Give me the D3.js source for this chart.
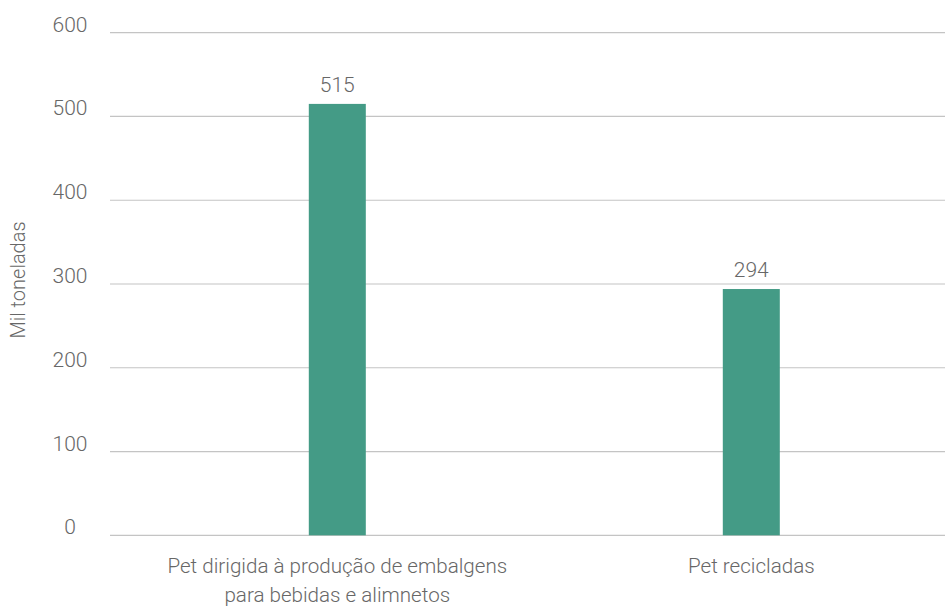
<!DOCTYPE html>
<html>
<head>
<meta charset="utf-8">
<script src="https://cdn.jsdelivr.net/npm/d3@7"></script>
<style>
  html, body { margin: 0; padding: 0; background: #fff; }
  svg { display: block; }
  text { font-family: Roboto, "Noto Sans", sans-serif; font-weight: 300; fill: #676767; }
</style>
</head>
<body>
<svg id="chart" width="945" height="612"></svg>
<script>
const categories = [
  ["Pet dirigida à produção de embalgens", "para bebidas e alimnetos"],
  ["Pet recicladas"]
];
const values = [515, 294];
const yTicks = [0, 100, 200, 300, 400, 500, 600];
const yTitle = "Mil toneladas";
const barColor = "#449b86";

const svg = d3.select("#chart");
const plotLeft = 110, plotRight = 945;
const y = d3.scaleLinear().domain([0, 600]).range([535.3, 32.7]);
const x = d3.scaleBand().domain(d3.range(values.length)).range([130.3, 958.3]).padding(0);
const barW = x.bandwidth() * 0.1377;

// gridlines
svg.append("g").selectAll("line").data(yTicks).join("line")
  .attr("x1", plotLeft).attr("x2", plotRight)
  .attr("y1", d => y(d)).attr("y2", d => y(d))
  .attr("stroke", "#c4c4c4").attr("stroke-width", 1.2);

// y tick labels
svg.append("g").selectAll("text").data(yTicks).join("text")
  .attr("x", 70).attr("y", d => y(d) - 1)
  .attr("text-anchor", "middle")
  .style("font-size", "21px")
  .text(d => d);

// y title
svg.append("text")
  .attr("transform", "translate(25,280) rotate(-90)")
  .attr("text-anchor", "middle")
  .style("font-size", "20px")
  .text(yTitle);

// bars
svg.append("g").selectAll("rect").data(values).join("rect")
  .attr("x", (d, i) => x(i) + x.bandwidth() / 2 - barW / 2)
  .attr("width", barW)
  .attr("y", d => y(d))
  .attr("height", d => y(0) - y(d))
  .attr("fill", barColor);

// value labels
svg.append("g").selectAll("text").data(values).join("text")
  .attr("x", (d, i) => x(i) + x.bandwidth() / 2)
  .attr("y", d => y(d) - 12)
  .attr("text-anchor", "middle")
  .style("font-size", "21px")
  .text(d => d);

// category labels
const cat = svg.append("g").selectAll("text").data(categories).join("text")
  .attr("x", (d, i) => x(i) + x.bandwidth() / 2)
  .attr("y", 572.5)
  .attr("text-anchor", "middle")
  .style("font-size", "20.6px");
cat.each(function(lines, i) {
  d3.select(this).selectAll("tspan").data(lines).join("tspan")
    .attr("x", x(i) + x.bandwidth() / 2)
    .attr("dy", (l, j) => j === 0 ? 0 : 29)
    .text(l => l);
});
</script>
</body>
</html>
